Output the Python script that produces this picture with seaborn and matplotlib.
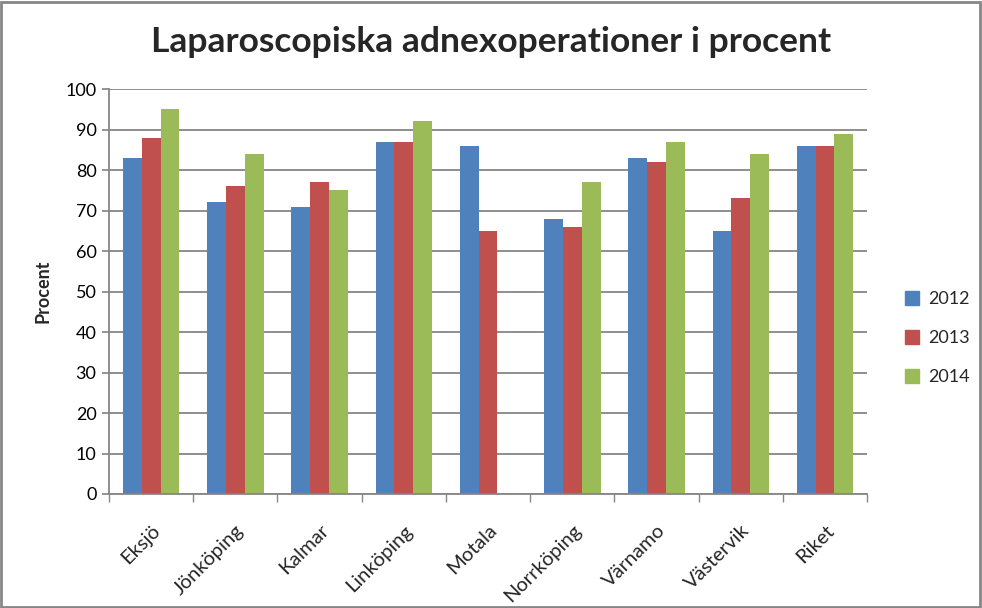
import numpy as np
import pandas as pd
import matplotlib
matplotlib.use("Agg")
import matplotlib.pyplot as plt
import seaborn as sns
from matplotlib.patches import Rectangle

categories = ["Eksjö", "Jönköping", "Kalmar", "Linköping", "Motala",
              "Norrköping", "Värnamo", "Västervik", "Riket"]
years = ["2012", "2013", "2014"]
v2012 = [83, 72, 71, 87, 86, 68, 83, 65, 86]
v2013 = [88, 76, 77, 87, 65, 66, 82, 73, 86]
v2014 = [95, 84, 75, 92, np.nan, 77, 87, 84, 89]
colors = ["#4F81BD", "#C0504D", "#9BBB59"]

rows = []
for yr, vals in zip(years, [v2012, v2013, v2014]):
    for c, v in zip(categories, vals):
        rows.append({"Område": c, "År": yr, "Procent": v})
df = pd.DataFrame(rows)

sns.set_theme(style="white")
plt.rcParams["font.family"] = ["Lato", "DejaVu Sans"]

fig = plt.figure(figsize=(9.82, 6.08), dpi=100)
ax = fig.add_axes([0.111, 0.1875, 0.772, 0.666])

sns.barplot(data=df, x="Område", y="Procent", hue="År", order=categories,
            hue_order=years, palette=colors, width=0.67, saturation=1,
            errorbar=None, ax=ax, legend=False, linewidth=0)

ax.set_ylim(0, 100)
ax.set_xlim(-0.5, len(categories) - 0.5)
ax.set_yticks(range(0, 101, 10))
ax.yaxis.grid(True, color="#868686", linewidth=1.3)
ax.set_axisbelow(True)
for s in ["top", "right"]:
    ax.spines[s].set_visible(False)
for s in ["left", "bottom"]:
    ax.spines[s].set_color("#868686")
    ax.spines[s].set_linewidth(1.3)

ax.tick_params(axis="y", which="major", left=True, length=5, color="#868686",
               labelsize=13, pad=4, labelcolor="black")
ax.set_xticks(range(len(categories)))
ax.set_xticklabels(categories, rotation=45, ha="right", rotation_mode="anchor",
                   fontsize=14.5)
ax.tick_params(axis="x", which="major", bottom=False, pad=14)
ax.set_xticks(np.arange(-0.5, len(categories) + 0.5, 1), minor=True)
ax.tick_params(axis="x", which="minor", bottom=True, length=6, color="#868686")

ax.set_xlabel("")
ax.set_ylabel("Procent", fontsize=13, fontweight="bold", labelpad=10)

fig.suptitle("Laparoscopiska adnexoperationer i procent", fontsize=25.5,
             fontweight="bold", y=0.957)

handles = [Rectangle((0, 0), 1, 1, color=c) for c in colors]
fig.legend(handles, years, loc="center left", bbox_to_anchor=(0.905, 0.444),
           frameon=False, fontsize=13, handlelength=0.8, handleheight=0.8,
           labelspacing=1.25, handletextpad=0.5)

border = Rectangle((0.001, 0.001), 0.997, 0.996, transform=fig.transFigure,
                   fill=False, edgecolor="#868686", linewidth=2)
fig.patches.append(border)

fig.savefig("out.png", dpi=100)
